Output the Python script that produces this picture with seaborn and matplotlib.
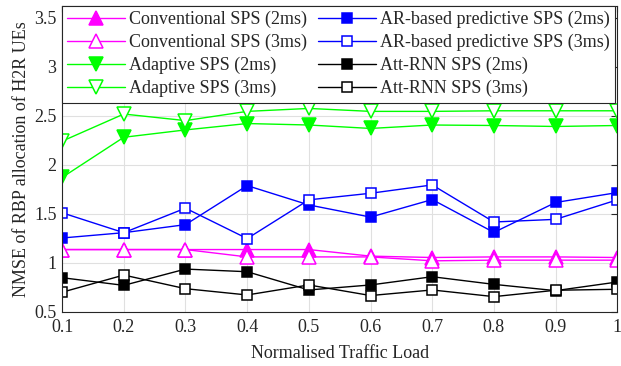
import matplotlib
matplotlib.use("Agg")
import matplotlib.pyplot as plt
import seaborn as sns

sns.set_style("whitegrid")
plt.rcParams["font.family"] = ["Liberation Serif", "DejaVu Serif"]

load = [0.1, 0.2, 0.3, 0.4, 0.5, 0.6, 0.7, 0.8, 0.9, 1.0]

conv_2ms = [1.135, 1.135, 1.135, 1.135, 1.135, 1.068, 1.054, 1.06, 1.06, 1.054]
conv_3ms = [1.135, 1.135, 1.135, 1.06, 1.06, 1.06, 1.02, 1.027, 1.027, 1.027]
adapt_2ms = [1.87, 2.28, 2.355, 2.42, 2.405, 2.37, 2.405, 2.40, 2.39, 2.40]
adapt_3ms = [2.24, 2.517, 2.45, 2.544, 2.574, 2.544, 2.544, 2.55, 2.55, 2.55]
ar_2ms = [1.253, 1.307, 1.389, 1.787, 1.59, 1.466, 1.645, 1.31, 1.615, 1.716]
ar_3ms = [1.51, 1.307, 1.557, 1.247, 1.642, 1.709, 1.794, 1.416, 1.443, 1.642]
att_2ms = [0.848, 0.77, 0.936, 0.909, 0.723, 0.774, 0.858, 0.78, 0.716, 0.804]
att_3ms = [0.70, 0.875, 0.736, 0.672, 0.774, 0.666, 0.723, 0.655, 0.72, 0.73]

series = [
    ("Conventional SPS (2ms)", conv_2ms, "#ff00ff", "^", True, 10),
    ("Conventional SPS (3ms)", conv_3ms, "#ff00ff", "^", False, 10),
    ("Adaptive SPS (2ms)", adapt_2ms, "#00ff00", "v", True, 10),
    ("Adaptive SPS (3ms)", adapt_3ms, "#00ff00", "v", False, 10),
    ("AR-based predictive SPS (2ms)", ar_2ms, "#0000ff", "s", True, 7.5),
    ("AR-based predictive SPS (3ms)", ar_3ms, "#0000ff", "s", False, 7.5),
    ("Att-RNN SPS (2ms)", att_2ms, "black", "s", True, 7.5),
    ("Att-RNN SPS (3ms)", att_3ms, "black", "s", False, 7.5),
]

fig, ax = plt.subplots(figsize=(6.21, 3.66), dpi=100)
fig.subplots_adjust(left=0.1, right=0.994, top=0.984, bottom=0.148)

for name, vals, col, mk, filled, ms in series:
    sns.lineplot(x=load, y=vals, ax=ax, color=col, marker=mk, markersize=ms,
                 markerfacecolor=col if filled else "white",
                 markeredgecolor=col, markeredgewidth=1.1,
                 linewidth=1.0, label=name)

ax.set_xlim(0.1, 1.0)
ax.set_ylim(0.5, 3.62)
ax.set_xticks(load)
ax.set_xticklabels(["0.1", "0.2", "0.3", "0.4", "0.5", "0.6", "0.7", "0.8", "0.9", "1"])
ax.set_yticks([0.5, 1, 1.5, 2, 2.5, 3, 3.5])
ax.set_yticklabels(["0.5", "1", "1.5", "2", "2.5", "3", "3.5"])
ax.tick_params(direction="in", top=True, right=True, labelsize=13, length=4,
               color="#262626")
ax.tick_params(axis="x", pad=5)
ax.tick_params(axis="y", pad=4)
ax.grid(True, color="#e0e0e0", linewidth=0.8)
for sp in ax.spines.values():
    sp.set_color("#262626")
    sp.set_linewidth(0.8)

ax.set_xlabel("Normalised Traffic Load", fontsize=13, labelpad=7)
ax.set_ylabel("NMSE of RBP allocation of H2R UEs", fontsize=13, labelpad=3)

leg = ax.legend(ncol=2, loc="upper left", bbox_to_anchor=(0, 1, 0.996, 0),
                mode="expand", fontsize=13, frameon=True, fancybox=False,
                edgecolor="#262626", framealpha=1, borderaxespad=0,
                handlelength=3.2, handletextpad=0.25, labelspacing=0.32,
                borderpad=0.28, columnspacing=1.0)
leg.get_frame().set_linewidth(0.8)

fig.savefig("out.png", dpi=100)
